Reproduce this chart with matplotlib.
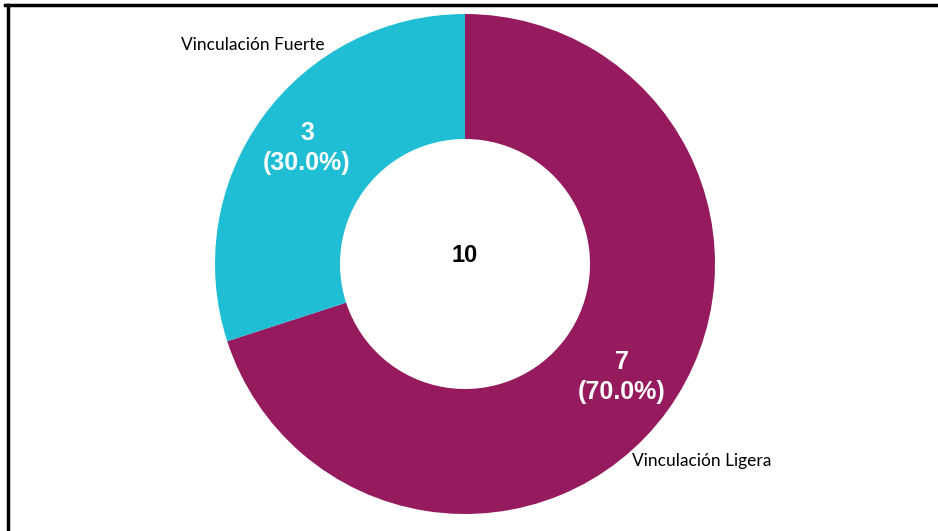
import matplotlib.pyplot as plt

# Data
categories = ["Vinculación Ligera", "Vinculación Fuerte"]
values = [7, 3]
colors = ["#951A5E", "#1FBED5"]
total = sum(values)

plt.rcParams['font.family'] = ['Lato', 'DejaVu Sans']
bold_font = ['Liberation Sans', 'DejaVu Sans']

fig = plt.figure(figsize=(9.38, 5.31), dpi=100)
ax = fig.add_axes([0, 0, 1, 1])

cx, cy, r = 465, 267, 250
wedges, _ = ax.pie(values, colors=colors, startangle=90, counterclock=False,
                   center=(cx, cy), radius=r,
                   wedgeprops=dict(width=r * 0.5, edgecolor='none'))

# pie() resets the limits, so set them afterwards
ax.set_xlim(0, 938)
ax.set_ylim(0, 531)
ax.set_aspect('equal')
ax.axis('off')

# value labels inside the ring
pct_pos = [(622, 531 - 377), (307, 531 - 148)]
for v, (x, y) in zip(values, pct_pos):
    ax.text(x, y, f"{v}\n({v / total * 100:.1f}%)", ha='center', va='center',
            color='white', fontsize=18, fontweight='bold', family=bold_font,
            linespacing=1.3)

# category labels outside
ax.text(253, 531 - 45, categories[1], ha='center', va='center', fontsize=12.5)
ax.text(702, 531 - 461, categories[0], ha='center', va='center', fontsize=12.5)

# total in the hole
ax.text(cx, 531 - 255, str(total), ha='center', va='center',
        fontsize=17, fontweight='bold', family=bold_font, color='black')

# border of the frame (cropped)
ax.plot([5, 945], [531 - 5, 531 - 5], color='black', lw=2.5, clip_on=False)
ax.plot([8, 8], [531 - 5, -10], color='black', lw=2.5, clip_on=False)

fig.savefig("out.png", dpi=100)
